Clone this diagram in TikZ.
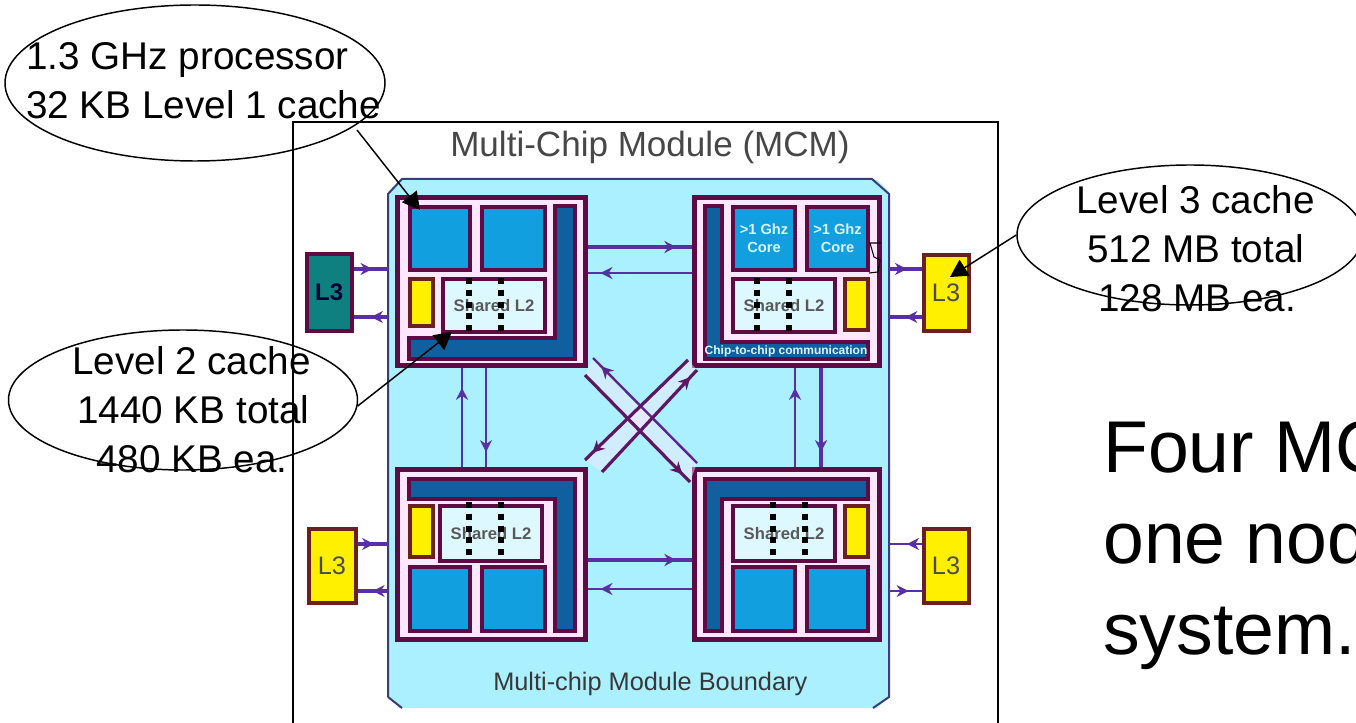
\documentclass[tikz,border=0pt]{standalone}
\usepackage{fontspec}
\setmainfont{Liberation Sans}
\usetikzlibrary{shapes.geometric,arrows.meta,decorations.markings}
\definecolor{maroon}{HTML}{5E0B45}
\definecolor{pale}{HTML}{FFE8FF}
\definecolor{cyanbg}{HTML}{AAF0FF}
\definecolor{coreblue}{HTML}{119FE0}
\definecolor{busblue}{HTML}{10609F}
\definecolor{linkp}{HTML}{5A2FA5}
\definecolor{frameb}{HTML}{3C3C78}
\definecolor{lthree}{HTML}{FFF000}
\definecolor{teal3}{HTML}{0E8080}
\definecolor{brownb}{HTML}{6A1F20}
\definecolor{paleblue}{HTML}{DDF8FF}
\tikzset{
  x=0.75pt,y=-0.75pt,
  module/.style={draw=maroon,line width=3.75pt,fill=pale},
  corebox/.style={draw=maroon,line width=2.6pt,fill=coreblue},
  busshape/.style={draw=maroon,line width=2.4pt,fill=busblue},
  sharedbox/.style={draw=maroon,line width=2.6pt,fill=paleblue,font=\bfseries\fontsize{12.5}{14}\selectfont,text=black!65},
  yellowbox/.style={draw=brownb,line width=3pt,fill=lthree},
  lyellow/.style={draw=brownb,line width=3pt,fill=lthree,font=\fontsize{19}{22}\selectfont,text=black!70},
  lteal/.style={draw=maroon,line width=3pt,fill=teal3,font=\bfseries\fontsize{18}{22}\selectfont,text=black!80!blue},
  corelabel/.style={font=\bfseries\fontsize{11}{13.5}\selectfont,text=white!85!cyan},
  dots/.style={line width=4.5pt,dash pattern=on 4.5pt off 4.35pt,black},
  thinlink/.style={draw=linkp,line width=1.3pt},
  thicklink/.style={draw=linkp,line width=2.6pt},
  crosslink/.style={draw=maroon!70!linkp,line width=2.4pt},
  crossblue/.style={draw=linkp!70!maroon,line width=1.8pt},
  crossglow/.style={fill=pale,fill opacity=0.45},
  headfwd/.style={postaction={decorate},decoration={markings,mark=at position #1 with {\arrow{Stealth[length=9pt,width=9pt]}}}},
  headback/.style={postaction={decorate},decoration={markings,mark=at position #1 with {\arrowreversed{Stealth[length=9pt,width=9pt]}}}},
  callout/.style={draw=black,line width=1.1pt,-{Triangle[length=13pt,width=14pt]}},
  bubble/.style={ellipse,draw=black,line width=1.1pt,inner sep=0pt,fill=none},
  bubbletext/.style={font=\fontsize{29}{30}\selectfont,anchor=base west,inner sep=0pt,text=black},
  bigtext/.style={font=\fontsize{55}{57}\selectfont,anchor=base west,inner sep=0pt,text=black},
  titletext/.style={font=\fontsize{26.3}{28}\selectfont,anchor=base west,inner sep=0pt,text=black!72},
  boundtext/.style={font=\fontsize{19}{21}\selectfont,anchor=base west,inner sep=0pt,text=black!78},
  framebox/.style={draw=black,line width=1.1pt},
  mcmedge/.style={draw=frameb,line width=1.5pt},
  anchoronly/.style={draw=none,fill=none},
}
% name, style, x1, y1, x2, y2, text
\newcommand{\bx}[7]{%
  \pgfmathsetmacro{\bw}{(#5-#3)*0.75}%
  \pgfmathsetmacro{\bh}{(#6-#4)*0.75}%
  \pgfmathsetmacro{\bcx}{(#3+#5)/2}%
  \pgfmathsetmacro{\bcy}{(#4+#6)/2}%
  \node[#2,rectangle,minimum width=\bw pt,minimum height=\bh pt,inner sep=0pt,align=center] (#1) at (\bcx,\bcy) {#7};}
\newcommand{\dotcol}[3]{\draw[dots] (#1,#2-3) -- (#1,#3+3);}
\begin{document}
\begin{tikzpicture}
\useasboundingbox (0,0) rectangle (1356,723);
\clip (0,0) rectangle (1356,723);
\fill[white] (0,0) rectangle (1356,723);

% outer picture frame
\draw[framebox] (293,730) -- (293,122) -- (998,122) -- (998,730);

% MCM area
\fill[cyanbg] (400,180) -- (877,180) -- (889,192) -- (889,697) -- (877,708) -- (400,708) -- (388,697) -- (388,192) -- cycle;
\draw[mcmedge] (388,697) -- (388,194) -- (402,179) -- (872,179) -- (889,194) -- (889,697) -- (873,708);
\draw[mcmedge] (388,697) -- (402,708);
\bx{mcm}{anchoronly}{388}{179}{889}{708}{}

\node[titletext] (title) at (450,157) {Multi-Chip Module (MCM)};
\node[boundtext] (boundary) at (493,690) {Multi-chip Module Boundary};

% ---------- modules
\bx{ma}{module}{397.5}{197.5}{585.5}{365.5}{}
\bx{mb}{module}{694.5}{197.5}{879.5}{365.5}{}
\bx{mc}{module}{397.5}{469.5}{585.5}{639.5}{}
\bx{md}{module}{694.5}{469.5}{879.5}{639.5}{}

% top-left contents
\path[busshape] (555,206) -- (575,206) -- (575,359) -- (409,359) -- (409,338) -- (555,338) -- cycle;
\bx{aca}{corebox}{410}{207}{470}{270}{}
\bx{acb}{corebox}{482}{207}{545}{270}{}
\bx{ay}{yellowbox}{410}{279}{433}{326}{}
\bx{as}{sharedbox}{443}{279}{545}{332}{Shared L2}

% top-right contents
\path[busshape] (705,206) -- (722,206) -- (722,342) -- (868,342) -- (868,359) -- (705,359) -- cycle;
\node[inner sep=0pt,font=\bfseries\fontsize{9}{10}\selectfont,text=paleblue] (bcomm) at (786,351) {Chip-to-chip communication};
\bx{bca}{corebox,corelabel}{733}{207}{795}{270}{>1 Ghz\\Core}
\bx{bcb}{corebox,corelabel}{807}{207}{868}{270}{>1 Ghz\\Core}
\bx{bs}{sharedbox}{733}{279}{835}{332}{Shared L2}
\bx{by}{yellowbox}{845}{279}{868}{330}{}
\draw[black,line width=0.8pt] (881,243) -- (870,243) -- (874,257) -- (880,260) -- (878,272) -- (869,273);

% bottom-left contents
\path[busshape] (409,479) -- (575,479) -- (575,631) -- (555,631) -- (555,499) -- (409,499) -- cycle;
\bx{cy}{yellowbox}{410}{506}{433}{557}{}
\bx{cs}{sharedbox}{440}{506}{542}{561}{Shared L2}
\bx{cca}{corebox}{410}{567}{470}{631}{}
\bx{ccb}{corebox}{482}{567}{545}{631}{}

% bottom-right contents
\path[busshape] (705,479) -- (868,479) -- (868,499) -- (722,499) -- (722,631) -- (705,631) -- cycle;
\bx{ds}{sharedbox}{733}{506}{835}{561}{Shared L2}
\bx{dy}{yellowbox}{845}{506}{868}{557}{}
\bx{dca}{corebox}{733}{567}{795}{631}{}
\bx{dcb}{corebox}{807}{567}{868}{631}{}

% dotted marks on L2
\dotcol{469}{281}{328}
\dotcol{501}{281}{328}
\dotcol{757}{281}{328}
\dotcol{789}{281}{328}
\dotcol{469}{505}{552}
\dotcol{501}{505}{552}
\dotcol{773}{505}{552}
\dotcol{805}{505}{552}

% ---------- L3 chips
\bx{la}{lteal}{306.5}{254.5}{352}{331}{L3}
\bx{lb}{lyellow}{923.5}{255.5}{968.5}{331}{L3}
\bx{lc}{lyellow}{308.5}{528.5}{355.5}{602.5}{L3}
\bx{ld}{lyellow}{923.5}{528.5}{968.5}{602.5}{L3}

\draw[thicklink,headfwd=.55] (la.east |- 0,269) -- (mcm.west |- 0,269);
\draw[thicklink,headback=.5] (la.east |- 0,317) -- (mcm.west |- 0,317);
\draw[thicklink,headfwd=.55] (mcm.east |- 0,269) -- (lb.west |- 0,269);
\draw[thicklink,headback=.5] (mcm.east |- 0,317) -- (lb.west |- 0,317);
\draw[thicklink,headfwd=.55] (lc.east |- 0,544) -- (mcm.west |- 0,544);
\draw[thicklink,headback=.5] (lc.east |- 0,591) -- (mcm.west |- 0,591);
\draw[thinlink,headback=.55] (mcm.east |- 0,544) -- (ld.west |- 0,544);
\draw[thinlink,headfwd=.6] (mcm.east |- 0,591) -- (ld.west |- 0,591);

% ---------- module to module links
\draw[thicklink,headfwd=.85] (ma.east |- 0,247) -- (mb.west |- 0,247);
\draw[thinlink,headback=.12] (ma.east |- 0,273) -- (mb.west |- 0,273);
\draw[thicklink,headfwd=.85] (mc.east |- 0,560) -- (md.west |- 0,560);
\draw[thinlink,headback=.12] (mc.east |- 0,589) -- (md.west |- 0,589);
\draw[thinlink,headback=.2] (ma.south -| 462,0) -- (mc.north -| 462,0);
\draw[thinlink,headfwd=.85] (ma.south -| 486,0) -- (mc.north -| 486,0);
\draw[thinlink,headback=.2] (mb.south -| 795,0) -- (md.north -| 795,0);
\draw[thicklink,headfwd=.85] (mb.south -| 821,0) -- (md.north -| 821,0);

% diagonals
\coordinate (xaa) at (593,358);
\coordinate (xab) at (697,463);
\coordinate (xba) at (585,375);
\coordinate (xbb) at (690,482);
\coordinate (xca) at (688,360);
\coordinate (xcb) at (585,460);
\coordinate (xda) at (697,370);
\coordinate (xdb) at (602,472);
\fill[crossglow] (xaa) -- (xab) -- (xbb) -- (xba) -- cycle;
\fill[crossglow] (xca) -- (xcb) -- (xdb) -- (xda) -- cycle;
\draw[crossblue,headback=.08] (xaa) -- (xab);
\draw[crosslink,headfwd=.93] (xba) -- (xbb);
\draw[crosslink,headfwd=.93] (xca) -- (xcb);
\draw[crosslink,headback=.07] (xda) -- (xdb);

% ---------- callout bubbles
\node[bubble,minimum width=285pt,minimum height=117pt] (ea) at (195,83) {};
\node[bubble,minimum width=261.75pt,minimum height=105pt] (eb) at (183,400) {};
\node[bubble,minimum width=259.5pt,minimum height=105pt] (ec) at (1190,235) {};

\node[bubbletext] (ta) at (26,70) {1.3 GHz processor};
\node[bubbletext] (tb) at (26,119) {32 KB Level 1 cache};
\node[bubbletext] (tc) at (72,374) {Level 2 cache};
\node[bubbletext] (td) at (77,423) {1440 KB total};
\node[bubbletext] (te) at (96,472) {480 KB ea.};
\node[bubbletext] (tf) at (1076,214) {Level 3 cache};
\node[bubbletext] (tg) at (1087,263) {512 MB total};
\node[bubbletext] (th) at (1098,312) {128 MB ea.};

\coordinate (pa) at (420,210);
\coordinate (pb) at (452,332);
\coordinate (pc) at (950,277);
\draw[callout] (357,130) -- (pa);
\draw[callout] (eb.-2) -- (pb);
\draw[callout] (ec.west) -- (pc);

% ---------- big text
\node[bigtext] (ba) at (1103,472) {Four MC};
\node[bigtext] (bb) at (1103,563) {one nod};
\node[bigtext] (bc) at (1103,654) {system.};
\end{tikzpicture}
\end{document}
